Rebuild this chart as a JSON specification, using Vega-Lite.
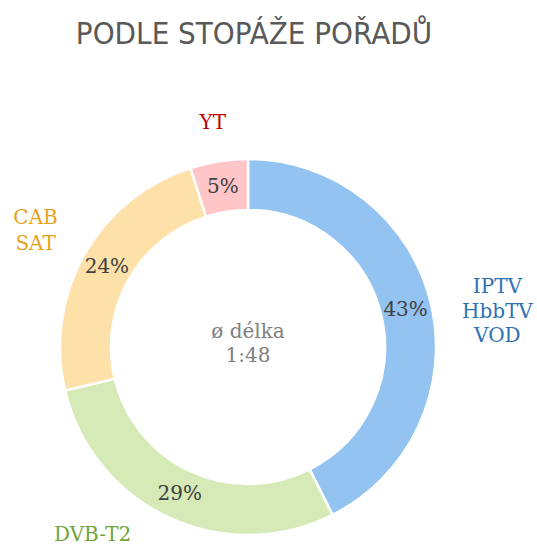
{
  "$schema": "https://vega.github.io/schema/vega-lite/v6.json",
  "autosize": {"type": "none"},
  "width": 496,
  "height": 376,
  "padding": {"left": 0, "top": 159, "right": 41, "bottom": 10},
  "background": "white",
  "title": {
    "text": "PODLE STOPÁŽE POŘADŮ",
    "font": "DejaVu Sans Condensed",
    "fontSize": 31,
    "fontWeight": "normal",
    "color": "#595959",
    "anchor": "middle",
    "dx": 6,
    "offset": 10
  },
  "config": {"view": {"stroke": null}},
  "data": {
    "values": [
      {"kanal": "IPTV HbbTV VOD", "popis": "IPTV\nHbbTV\nVOD", "podil": 43, "procenta": "43%", "poradi": 1},
      {"kanal": "DVB-T2", "popis": "DVB-T2", "podil": 29, "procenta": "29%", "poradi": 2},
      {"kanal": "CAB SAT", "popis": "CAB\nSAT", "podil": 24, "procenta": "24%", "poradi": 3},
      {"kanal": "YT", "popis": "YT", "podil": 5, "procenta": "5%", "poradi": 4}
    ]
  },
  "encoding": {
    "theta": {"field": "podil", "type": "quantitative", "stack": true},
    "order": {"field": "poradi", "type": "quantitative"}
  },
  "layer": [
    {
      "mark": {"type": "arc", "outerRadius": 188, "innerRadius": 137, "stroke": "white", "strokeWidth": 2.5},
      "encoding": {
        "color": {
          "field": "kanal",
          "type": "nominal",
          "scale": {
            "domain": ["IPTV HbbTV VOD", "DVB-T2", "CAB SAT", "YT"],
            "range": ["#93c3f0", "#d5eab6", "#fee1a8", "#ffc5c7"]
          },
          "legend": null
        }
      }
    },
    {
      "mark": {"type": "text", "font": "DejaVu Serif", "fontSize": 20, "color": "#404040", "baseline": "middle", "align": "center"},
      "encoding": {
        "radius": {"value": 162},
        "text": {"field": "procenta", "type": "nominal"}
      }
    },
    {
      "mark": {"type": "text", "font": "DejaVu Serif", "fontSize": 20, "color": "#2e72b3", "baseline": "middle", "align": "center", "lineBreak": "\n", "lineHeight": 24.5, "dx": 11, "dy": -3},
      "encoding": {
        "radius": {"value": 245},
        "text": {"condition": {"test": "datum.kanal === 'IPTV HbbTV VOD'", "field": "popis"}, "value": ""}
      }
    },
    {
      "mark": {"type": "text", "font": "DejaVu Serif", "fontSize": 20, "color": "#72a53a", "baseline": "middle", "align": "center", "dx": -52, "dy": -34},
      "encoding": {
        "radius": {"value": 245},
        "text": {"condition": {"test": "datum.kanal === 'DVB-T2'", "field": "popis"}, "value": ""}
      }
    },
    {
      "mark": {"type": "text", "font": "DejaVu Serif", "fontSize": 20, "color": "#e5a11c", "baseline": "middle", "align": "center", "lineBreak": "\n", "lineHeight": 26, "dx": 1, "dy": -9},
      "encoding": {
        "radius": {"value": 245},
        "text": {"condition": {"test": "datum.kanal === 'CAB SAT'", "field": "popis"}, "value": ""}
      }
    },
    {
      "mark": {"type": "text", "font": "DejaVu Serif", "fontSize": 20, "color": "#c00000", "baseline": "middle", "align": "center"},
      "encoding": {
        "radius": {"value": 227},
        "text": {"condition": {"test": "datum.kanal === 'YT'", "field": "popis"}, "value": ""}
      }
    },
    {
      "transform": [{"filter": "datum.poradi === 1"}],
      "mark": {"type": "text", "font": "DejaVu Serif", "fontSize": 20, "color": "#808080", "baseline": "middle", "align": "center", "lineBreak": "\n", "lineHeight": 24, "text": "ø délka\n1:48", "dy": -15},
      "encoding": {
        "theta": {"value": 0},
        "radius": {"value": 0},
        "order": null
      }
    }
  ]
}
